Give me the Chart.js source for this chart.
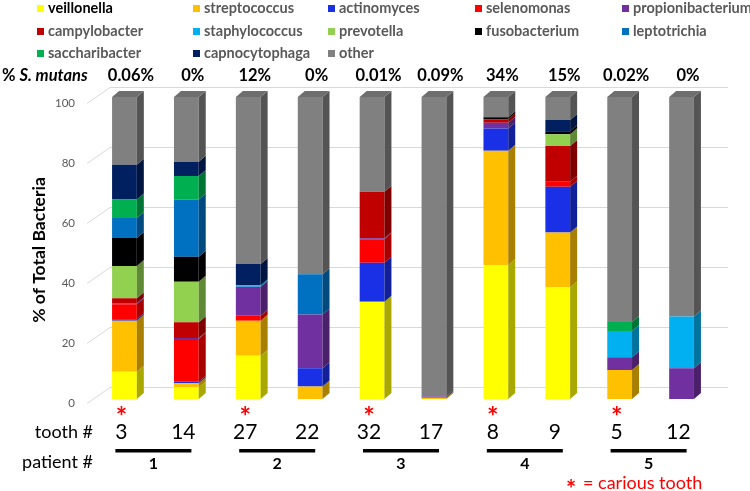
<!DOCTYPE html>
<html>
<head>
<meta charset="utf-8">
<script src="https://cdn.jsdelivr.net/npm/chart.js@4/dist/chart.umd.min.js"></script>
<style>
  body { margin: 0; background: #fff; }
  #wrap { position: relative; width: 750px; height: 491px; }
  #legend { position: absolute; left: 0; top: 0; width: 750px; height: 64px; font-family: Lato, sans-serif; }
  .item { position: absolute; height: 16px; line-height: 16px; font-size: 14.5px; font-weight: bold; color: #595959; white-space: nowrap; }
  .item i { display: inline-block; width: 7px; height: 7px; margin-right: 4px; vertical-align: 1px; }
</style>
</head>
<body>
<div id="wrap">
  <canvas id="bacteriaChart" width="750" height="491"></canvas>
  <div id="legend"></div>
</div>
<script>
// tooth numbers, patients and % S. mutans per tooth
const teeth = ['3', '14', '27', '22', '32', '17', '8', '9', '5', '12'];
const carious = [true, false, true, false, true, false, true, false, true, false];
const patients = ['1', '2', '3', '4', '5'];
const mutans = ['0.06%', '0%', '12%', '0%', '0.01%', '0.09%', '34%', '15%', '0.02%', '0%'];
const yTicks = [0, 20, 40, 60, 80, 100];

// % of total bacteria (stack order, bottom -> top)
const veillonella       = [9.0, 3.9, 14.3, 0, 32.2, 0, 44.4, 37.0, 0, 0];
const streptococcus     = [16.9, 1.3, 11.6, 4.1, 0, 0.4, 37.8, 18.1, 9.6, 0];
const actinomyces       = [0.5, 0.5, 0, 6.1, 12.9, 0, 7.4, 15.2, 0, 0];
const selenomonas       = [5.0, 14.2, 1.7, 0, 7.8, 0, 0, 1.6, 0, 0];
const propionibacterium = [0.3, 0.3, 9.6, 17.8, 0.3, 0.4, 1.9, 0, 4.2, 10.2];
const campylobacter     = [1.7, 5.2, 0, 0, 15.4, 0, 1.1, 11.9, 0, 0];
const staphylococcus    = [0, 0, 0.5, 0, 0, 0, 0, 0, 8.7, 17.1];
const prevotella        = [10.6, 13.4, 0, 0, 0, 0, 0, 3.9, 0, 0];
const fusobacterium     = [9.3, 8.3, 0, 0, 0, 0, 0.7, 1.0, 0, 0];
const leptotrichia      = [6.6, 19.0, 0, 13.3, 0, 0, 0, 0, 0, 0];
const saccharibacter    = [6.2, 7.7, 0, 0, 0, 0, 0, 0, 3.0, 0];
const capnocytophaga    = [11.5, 4.8, 7.0, 0, 0, 0, 0, 3.7, 0, 0];
const other             = [22.4, 21.4, 55.3, 58.7, 31.4, 99.2, 6.7, 7.6, 74.5, 72.7];

const series = [
    ['veillonella', veillonella, '#FFFF00'],
    ['streptococcus', streptococcus, '#FFC000'],
    ['actinomyces', actinomyces, '#1A30E6'],
    ['selenomonas', selenomonas, '#FF0000'],
    ['propionibacterium', propionibacterium, '#7030A0'],
    ['campylobacter', campylobacter, '#C00000'],
    ['staphylococcus', staphylococcus, '#00B0F0'],
    ['prevotella', prevotella, '#92D050'],
    ['fusobacterium', fusobacterium, '#000000'],
    ['leptotrichia', leptotrichia, '#0070C0'],
    ['saccharibacter', saccharibacter, '#00B050'],
    ['capnocytophaga', capnocytophaga, '#002060'],
    ['other', other, '#808080']
];

const DX = 7, DY = 6; // fake 3D depth

function shade(hex, f) {
    const n = parseInt(hex.slice(1), 16);
    const r = Math.round(((n >> 16) & 255) * f);
    const g = Math.round(((n >> 8) & 255) * f);
    const b = Math.round((n & 255) * f);
    return 'rgb(' + r + ',' + g + ',' + b + ')';
}

const decorations = {
    id: 'decorations',
    beforeDatasetsDraw(chart) {
        const ctx = chart.ctx;
        const y = chart.scales.y;
        ctx.save();
        // back-wall gridlines with the slanted floor edge
        ctx.strokeStyle = '#d9d9d9';
        ctx.lineWidth = 1;
        ctx.font = '11.5px Lato, sans-serif';
        ctx.fillStyle = '#595959';
        ctx.textAlign = 'right';
        ctx.textBaseline = 'middle';
        yTicks.forEach(function(v) {
            const yb = Math.round(y.getPixelForValue(v) - 10 - 2 * (100 - v) / 100) + 0.5;
            ctx.beginPath();
            ctx.moveTo(87, yb + 16);
            ctx.lineTo(110, yb);
            ctx.lineTo(728, yb);
            ctx.stroke();
            ctx.fillText(String(v), 75, yb + 16);
        });
        ctx.restore();
    },
    afterDatasetsDraw(chart) {
        const ctx = chart.ctx;
        const x = chart.scales.x;
        ctx.save();
        // side and top faces of each bar
        const metas = chart.data.datasets.map(function(d, i) { return chart.getDatasetMeta(i); });
        for (let j = 0; j < teeth.length; j++) {
            let topEl = null, topIdx = -1;
            metas.forEach(function(meta, i) {
                const el = meta.data[j];
                const h = el.base - el.y;
                if (h <= 0.01) return;
                const r = el.x + el.width / 2;
                ctx.fillStyle = shade(series[i][2], 0.66);
                ctx.beginPath();
                ctx.moveTo(r, el.y);
                ctx.lineTo(r + DX, el.y - DY);
                ctx.lineTo(r + DX, el.base - DY);
                ctx.lineTo(r, el.base);
                ctx.closePath();
                ctx.fill();
                topEl = el; topIdx = i;
            });
            if (topEl) {
                const l = topEl.x - topEl.width / 2, r = topEl.x + topEl.width / 2;
                ctx.fillStyle = shade(series[topIdx][2], 0.86);
                ctx.beginPath();
                ctx.moveTo(l, topEl.y);
                ctx.lineTo(l + DX, topEl.y - DY);
                ctx.lineTo(r + DX, topEl.y - DY);
                ctx.lineTo(r, topEl.y);
                ctx.closePath();
                ctx.fill();
            }
        }

        // y axis title
        ctx.save();
        ctx.translate(39, 250);
        ctx.rotate(-Math.PI / 2);
        ctx.font = 'bold 17.5px Lato, sans-serif';
        ctx.fillStyle = '#000';
        ctx.textAlign = 'center';
        ctx.textBaseline = 'middle';
        ctx.fillText('% of Total Bacteria', 0, 0);
        ctx.restore();

        // % S. mutans row
        ctx.fillStyle = '#000';
        ctx.textBaseline = 'middle';
        ctx.textAlign = 'left';
        ctx.font = 'bold 16.5px Lato, sans-serif';
        ctx.fillText('%', 2, 76);
        const pw = ctx.measureText('% ').width;
        ctx.font = 'italic bold 16.5px Lato, sans-serif';
        ctx.fillText('S. mutans', 2 + pw, 76);
        ctx.textAlign = 'center';
        ctx.font = 'bold 16.5px Lato, sans-serif';
        mutans.forEach(function(m, i) {
            ctx.fillText(m, x.getPixelForValue(i) + 6.5, 76);
        });

        // tooth labels and carious markers
        ctx.font = '18px Lato, sans-serif';
        ctx.textAlign = 'right';
        ctx.fillText('tooth #', 93, 432);
        ctx.fillText('patient #', 93, 462);
        ctx.textAlign = 'center';
        teeth.forEach(function(t, i) {
            const cx = x.getPixelForValue(i) - 3;
            ctx.fillStyle = '#000';
            ctx.font = '21px Lato, sans-serif';
            ctx.fillText(t, cx, 432);
            if (carious[i]) {
                ctx.fillStyle = '#FF0000';
                ctx.font = 'bold 27px Lato, sans-serif';
                ctx.fillText('*', cx, 417);
            }
        });

        // patient brackets
        patients.forEach(function(p, k) {
            const mid = (x.getPixelForValue(2 * k) + x.getPixelForValue(2 * k + 1)) / 2 - 2;
            ctx.fillStyle = '#000';
            ctx.fillRect(mid - 38, 449, 76, 3.5);
            ctx.font = 'bold 16px Lato, sans-serif';
            ctx.fillText(p, mid, 464);
        });

        // carious note
        ctx.fillStyle = '#FF0000';
        ctx.textAlign = 'left';
        ctx.font = 'bold 24px Lato, sans-serif';
        ctx.fillText('*', 566, 490);
        ctx.font = '18px Lato, sans-serif';
        ctx.fillText('= carious tooth', 583, 483);
        ctx.restore();
    }
};

document.addEventListener('DOMContentLoaded', function() {
    const ctx = document.getElementById('bacteriaChart').getContext('2d');
    const chart = new Chart(ctx, {
        type: 'bar',
        data: {
            labels: teeth,
            datasets: series.map(function(s) {
                return {
                    label: s[0],
                    data: s[1],
                    backgroundColor: s[2],
                    borderWidth: 0,
                    barPercentage: 0.4,
                    categoryPercentage: 1.0
                };
            })
        },
        options: {
            responsive: false,
            animation: false,
            layout: { padding: { left: 93.5, right: 37.5, top: 97, bottom: 92 } },
            scales: {
                x: { display: false, stacked: true },
                y: { display: false, stacked: true, min: 0, max: 100 }
            },
            plugins: {
                legend: { display: false },
                tooltip: { enabled: false }
            }
        },
        plugins: [decorations]
    });

    // html legend, 5 columns x 3 rows
    const colX = [37, 193, 328, 475, 622];
    const rowY = [8, 31, 53];
    const legend = document.getElementById('legend');
    chart.data.datasets.forEach(function(ds, i) {
        const div = document.createElement('div');
        div.className = 'item';
        div.style.left = colX[i % 5] + 'px';
        div.style.top = (rowY[Math.floor(i / 5)] - 8) + 'px';
        if (i === 0) div.style.color = '#000';
        div.innerHTML = '<i style="background:' + ds.backgroundColor + '"></i>' + ds.label;
        legend.appendChild(div);
    });
});
</script>
</body>
</html>
